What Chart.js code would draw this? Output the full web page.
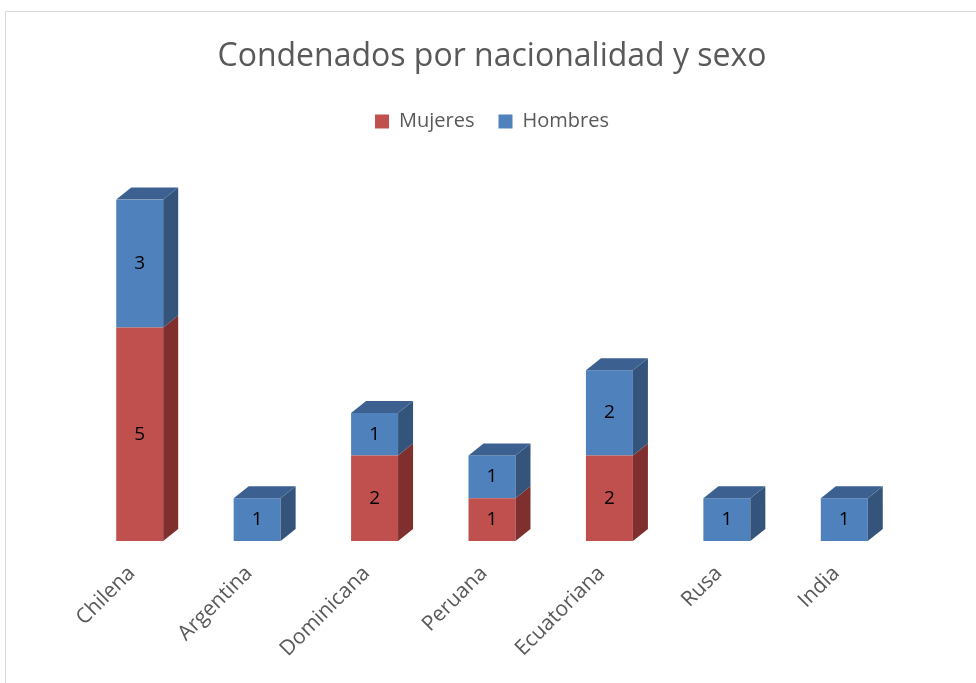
<!DOCTYPE html>
<html>
<head>
<meta charset="utf-8">
<script src="https://cdn.jsdelivr.net/npm/chart.js@4.4.1/dist/chart.umd.min.js"></script>
<style>
  html, body { margin: 0; padding: 0; background: #fff; overflow: hidden; }
  #frame { position: absolute; left: 5px; top: 11px; width: 1100px; height: 800px; border: 1px solid #d9d9d9; }
  #wrap { position: absolute; left: 0; top: 0; width: 976px; height: 683px; }
</style>
</head>
<body>
<div id="frame"></div>
<div id="wrap"><canvas id="chart"></canvas></div>
<script>
// chart data
const categories = ['Chilena', 'Argentina', 'Dominicana', 'Peruana', 'Ecuatoriana', 'Rusa', 'India'];
const mujeres = [5, 0, 2, 1, 2, 0, 0];
const hombres = [3, 1, 1, 1, 2, 1, 1];

const FONT = '"Open Sans", sans-serif';

// extra room under the legend
const legendGap = {
    id: 'legendGap',
    beforeInit(chart) {
        const fit = chart.legend.fit;
        chart.legend.fit = function () {
            fit.bind(chart.legend)();
            this.height += 58;
        };
    }
};

// fake 3D: side + top faces behind each column
const depthPlugin = {
    id: 'depth',
    afterDatasetsDraw(chart) {
        const ctx = chart.ctx;
        const dx = 15, dy = -12;
        const metas = chart.getSortedVisibleDatasetMetas();
        const shades = [
            { side: '#7f2f2d', top: '#8f3634' },
            { side: '#35547c', top: '#3c6190' }
        ];
        ctx.save();
        metas.forEach((meta, di) => {
            meta.data.forEach((bar, i) => {
                const v = chart.data.datasets[meta.index].data[i];
                if (!v) return;
                const p = bar.getProps(['x', 'y', 'base', 'width'], true);
                const r = p.x + p.width / 2, l = p.x - p.width / 2;
                ctx.fillStyle = shades[di].side;
                ctx.beginPath();
                ctx.moveTo(r, p.y);
                ctx.lineTo(r + dx, p.y + dy);
                ctx.lineTo(r + dx, p.base + dy);
                ctx.lineTo(r, p.base);
                ctx.closePath();
                ctx.fill();
                // top face only on the highest segment
                const above = metas.slice(di + 1).some(m => chart.data.datasets[m.index].data[i]);
                if (!above) {
                    ctx.fillStyle = shades[di].top;
                    ctx.beginPath();
                    ctx.moveTo(l, p.y);
                    ctx.lineTo(l + dx, p.y + dy);
                    ctx.lineTo(r + dx, p.y + dy);
                    ctx.lineTo(r, p.y);
                    ctx.closePath();
                    ctx.fill();
                }
            });
        });
        // value labels
        ctx.fillStyle = '#000';
        ctx.font = '19px ' + FONT;
        ctx.textAlign = 'center';
        ctx.textBaseline = 'middle';
        metas.forEach(meta => {
            meta.data.forEach((bar, i) => {
                const v = chart.data.datasets[meta.index].data[i];
                if (!v) return;
                const c = bar.getCenterPoint();
                ctx.fillText(v, c.x, c.y);
            });
        });
        ctx.restore();
    }
};

new Chart(document.getElementById('chart'), {
    type: 'bar',
    data: {
        labels: categories,
        datasets: [
            { label: 'Mujeres', data: mujeres, backgroundColor: '#c0504d', borderWidth: 0 },
            { label: 'Hombres', data: hombres, backgroundColor: '#4f81bd', borderWidth: 0 }
        ]
    },
    options: {
        responsive: true,
        maintainAspectRatio: false,
        animation: false,
        layout: { padding: { left: 81, right: 73, top: 10, bottom: 0 } },
        datasets: { bar: { categoryPercentage: 0.4, barPercentage: 1 } },
        scales: {
            x: {
                stacked: true,
                grid: { display: false, drawTicks: false },
                border: { display: false },
                ticks: {
                    minRotation: 45, maxRotation: 45, padding: 20, labelOffset: -8,
                    color: '#595959', font: { family: FONT, size: 21 }
                },
                afterFit: s => { s.height = 142; }
            },
            y: {
                stacked: true, min: 0, max: 8, display: false
            }
        },
        plugins: {
            title: {
                display: true,
                text: 'Condenados por nacionalidad y sexo',
                color: '#595959',
                font: { family: FONT, size: 32, weight: 'normal' },
                padding: { top: 28, bottom: 11 }
            },
            legend: {
                position: 'top',
                labels: {
                    boxWidth: 14, boxHeight: 14, padding: 24,
                    color: '#595959', font: { family: FONT, size: 20 }
                }
            },
            tooltip: { enabled: false }
        }
    },
    plugins: [legendGap, depthPlugin]
});
</script>
</body>
</html>
